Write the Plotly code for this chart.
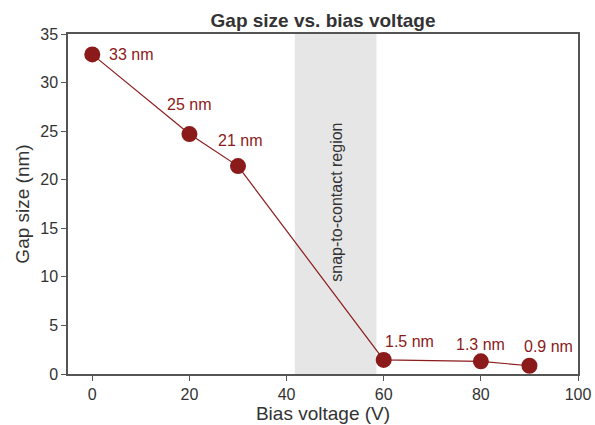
import plotly.graph_objects as go

voltage = [0, 20, 30, 60, 80, 90]
gap = [32.9, 24.7, 21.4, 1.45, 1.3, 0.85]
labels = ["33 nm", "25 nm", "21 nm", "1.5 nm", "1.3 nm", "0.9 nm"]
label_dx = [39, 0, 2, 26, 0, 19]
label_dy = [0, 30, 26, 18, 17, 19]
snap_region = [41.7, 58.5]

red = "#8b1a1a"
font = "Liberation Sans, Arial, sans-serif"

fig = go.Figure()
fig.add_vrect(x0=snap_region[0], x1=snap_region[1], fillcolor="#e6e6e6",
              line_width=0, layer="below")
fig.add_trace(go.Scatter(x=voltage, y=gap, mode="lines+markers",
                         line=dict(color=red, width=1.2),
                         marker=dict(color=red, size=16), showlegend=False))
for x, y, t, dx, dy in zip(voltage, gap, labels, label_dx, label_dy):
    fig.add_annotation(x=x, y=y, text=t, showarrow=False, xshift=dx, yshift=dy,
                       font=dict(color=red, size=16, family=font))
fig.add_annotation(x=sum(snap_region) / 2, y=17.7, text="snap-to-contact region",
                   textangle=-90, showarrow=False,
                   font=dict(color="#333333", size=16, family=font))

axis_common = dict(showgrid=False, zeroline=False, showline=True, linecolor="#555555",
                   linewidth=1.5, mirror=True, ticks="outside", ticklen=5,
                   tickcolor="#555555", tickfont=dict(size=16, color="#333333", family=font))
fig.update_xaxes(range=[-5, 100], tickvals=[0, 20, 40, 60, 80, 100],
                 title=dict(text="Bias voltage (V)", font=dict(size=19, color="#333333", family=font),
                            standoff=2), **axis_common)
fig.update_yaxes(range=[0, 35], tickvals=[0, 5, 10, 15, 20, 25, 30, 35],
                 title=dict(text="Gap size (nm)", font=dict(size=19, color="#333333", family=font),
                            standoff=6), **axis_common)
fig.update_layout(width=595, height=425, plot_bgcolor="white", paper_bgcolor="white",
                  margin=dict(l=68, r=17, t=34, b=51, autoexpand=False),
                  title=dict(text="<b>Gap size vs. bias voltage</b>", xref="paper", x=0.5,
                             xanchor="center", y=0.951, yanchor="middle",
                             font=dict(size=19, color="#333333", family=font)))
fig.write_html("out.html")
